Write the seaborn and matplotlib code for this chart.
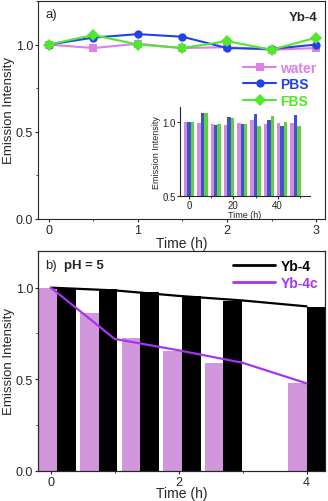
import numpy as np
import pandas as pd
import seaborn as sns
import matplotlib.pyplot as plt
from matplotlib.ticker import MultipleLocator

sns.set_style("ticks")
plt.rcParams['font.family'] = ['Liberation Sans', 'DejaVu Sans']

# panel a) stability in different media
time_a = [0, 0.5, 1, 1.5, 2, 2.5, 3]
water = [1.0, 0.98, 1.005, 0.98, 0.985, 0.97, 0.98]
pbs = [1.0, 1.04, 1.06, 1.045, 0.98, 0.975, 1.0]
fbs = [1.0, 1.055, 1.0, 0.98, 1.02, 0.97, 1.04]

# inset: long term
time_inset = [0, 6, 12, 18, 24, 30, 36, 42, 48]
water_inset = [1.0, 0.995, 0.984, 0.977, 0.989, 1.009, 0.984, 0.995, 0.989]
pbs_inset = [1.0, 1.06, 0.977, 1.03, 0.982, 1.05, 1.009, 0.97, 1.045]
fbs_inset = [1.0, 1.056, 0.986, 1.023, 0.982, 0.97, 1.036, 0.998, 0.97]

# panel b) pH = 5
time_b = [0, 1, 2, 3, 4]
yb4_line = [1.0, 0.985, 0.955, 0.93, 0.898]
yb4c_line = [1.0, 0.72, 0.658, 0.59, 0.478]
bar_slots = [0, 1, 2, 3, 4, 6]
yb4_bars = [1.0, 0.995, 0.978, 0.953, 0.927, 0.896]
yb4c_bars = [1.0, 0.862, 0.723, 0.656, 0.587, 0.477]

c_water = '#DE7EE8'
c_pbs = '#2242E6'
c_fbs = '#4FE82A'
c_yb4c = '#A535EE'
c_bar = '#D98BE6'

fig = plt.figure(figsize=(3.28, 5.02), dpi=100)
ax_a = fig.add_axes([0.116, 0.562, 0.875, 0.434])
ax_b = fig.add_axes([0.116, 0.060, 0.875, 0.438])

# ---- panel a
df_a = pd.DataFrame({
    'time': time_a * 3,
    'val': water + pbs + fbs,
    'medium': ['water'] * 7 + ['PBS'] * 7 + ['FBS'] * 7,
})
pal_a = {'water': c_water, 'PBS': c_pbs, 'FBS': c_fbs}
sns.lineplot(data=df_a, x='time', y='val', hue='medium', style='medium',
             markers={'water': 's', 'PBS': 'o', 'FBS': 'D'}, dashes=False,
             palette=pal_a, lw=1.5, markersize=6, markeredgewidth=0,
             ax=ax_a)
ax_a.set_xlim(-0.12, 3.1)
ax_a.set_ylim(0, 1.25)
ax_a.set_xticks([0, 1, 2, 3])
ax_a.set_yticks([0, 0.5, 1.0])
ax_a.set_yticklabels(['0.0', '0.5', '1.0'])
ax_a.xaxis.set_minor_locator(MultipleLocator(0.5))
ax_a.yaxis.set_minor_locator(MultipleLocator(0.25))
ax_a.set_xlabel('Time (h)', fontsize=10, labelpad=0)
ax_a.set_ylabel('Emission Intensity', fontsize=9.5)
ax_a.yaxis.set_label_coords(-0.082, 0.5)
ax_a.tick_params(labelsize=9, length=2.5, pad=1)
ax_a.tick_params(which='minor', length=1.5)
ax_a.text(0.025, 0.97, 'a)', transform=ax_a.transAxes, fontsize=9.5, va='top')
ax_a.text(0.975, 0.955, 'Yb-4', transform=ax_a.transAxes, fontsize=9.5,
          fontweight='bold', va='top', ha='right')
leg = ax_a.legend(loc='upper right', bbox_to_anchor=(1.0, 0.765), frameon=False,
                  fontsize=10, handlelength=2.4, labelspacing=0.2,
                  handletextpad=0.3, borderaxespad=0.2)
for t, c in zip(leg.get_texts(), [c_water, c_pbs, c_fbs]):
    t.set_color(c)
    t.set_fontweight('bold')

# inset
ax_in = fig.add_axes([0.549, 0.6076, 0.396, 0.1774])
df_in = pd.DataFrame({
    'time': time_inset * 3,
    'val': water_inset + pbs_inset + fbs_inset,
    'medium': ['water'] * 9 + ['PBS'] * 9 + ['FBS'] * 9,
})
sns.barplot(data=df_in, x='time', y='val', hue='medium', palette=pal_a,
            native_scale=True, width=0.78, linewidth=0, legend=False,
            ax=ax_in)
ax_in.set_xlim(-4.1, 54.6)
ax_in.set_ylim(0.5, 1.10)
ax_in.set_xticks([0, 20, 40])
ax_in.set_yticks([0.5, 1.0])
ax_in.xaxis.set_minor_locator(MultipleLocator(10))
ax_in.set_xlabel('Time (h)', fontsize=6.5, labelpad=0)
ax_in.set_ylabel('Emission Intensity', fontsize=6.5, labelpad=1)
ax_in.tick_params(labelsize=7, length=2, pad=1)
ax_in.tick_params(which='minor', length=1.5)
for side in ['top', 'right']:
    ax_in.spines[side].set_visible(False)

# ---- panel b: bars on a hidden twin axis, lines on top
ax_bars = ax_b.twiny()
ax_bars.set_zorder(ax_b.get_zorder() - 1)
ax_b.patch.set_visible(False)
df_bars = pd.DataFrame({
    'slot': bar_slots * 2,
    'val': yb4c_bars + yb4_bars,
    'sample': ['Yb-4c'] * 6 + ['Yb-4'] * 6,
})
sns.barplot(data=df_bars, x='slot', y='val', hue='sample',
            hue_order=['Yb-4c', 'Yb-4'],
            palette={'Yb-4c': c_bar, 'Yb-4': 'black'},
            native_scale=True, width=0.9, linewidth=0, legend=False,
            ax=ax_bars)
ax_bars.set_xlim(-0.46, 6.446)
ax_bars.set_xticks([])
ax_bars.set_xlabel('')
ax_bars.set_ylabel('')

df_b = pd.DataFrame({
    'time': time_b * 2,
    'val': yb4_line + yb4c_line,
    'sample': ['Yb-4'] * 5 + ['Yb-4c'] * 5,
})
sns.lineplot(data=df_b, x='time', y='val', hue='sample',
             palette={'Yb-4': 'black', 'Yb-4c': c_yb4c}, lw=1.6, ax=ax_b)
ax_b.set_xlim(-0.2, 4.29)
ax_b.set_ylim(0, 1.2)
ax_bars.set_ylim(0, 1.2)
ax_b.set_xticks([0, 2, 4])
ax_b.xaxis.set_minor_locator(MultipleLocator(1))
ax_b.set_yticks([0, 0.5, 1.0])
ax_b.set_yticklabels(['0.0', '0.5', '1.0'])
ax_b.yaxis.set_minor_locator(MultipleLocator(0.25))
ax_b.set_xlabel('Time (h)', fontsize=10, labelpad=-1)
ax_b.set_ylabel('Emission Intensity', fontsize=9.5)
ax_b.yaxis.set_label_coords(-0.082, 0.5)
ax_b.tick_params(labelsize=9, length=2.5, pad=1)
ax_b.tick_params(which='minor', length=1.5)
ax_b.text(0.025, 0.965, 'b)', transform=ax_b.transAxes, fontsize=9.5, va='top')
ax_b.text(0.09, 0.965, 'pH = 5', transform=ax_b.transAxes, fontsize=9.5,
          fontweight='bold', va='top')
leg_b = ax_b.legend(loc='upper right', bbox_to_anchor=(1.005, 1.0), frameon=False,
                    fontsize=10, handlelength=3.0, labelspacing=0.2,
                    handletextpad=0.4, borderaxespad=0.2)
for t, c in zip(leg_b.get_texts(), ['black', c_yb4c]):
    t.set_color(c)
    t.set_fontweight('bold')
for line in leg_b.get_lines():
    line.set_linewidth(2)

for ax in [ax_a, ax_b, ax_bars]:
    for s in ax.spines.values():
        s.set_linewidth(0.8)

fig.savefig('out.png', dpi=100)
